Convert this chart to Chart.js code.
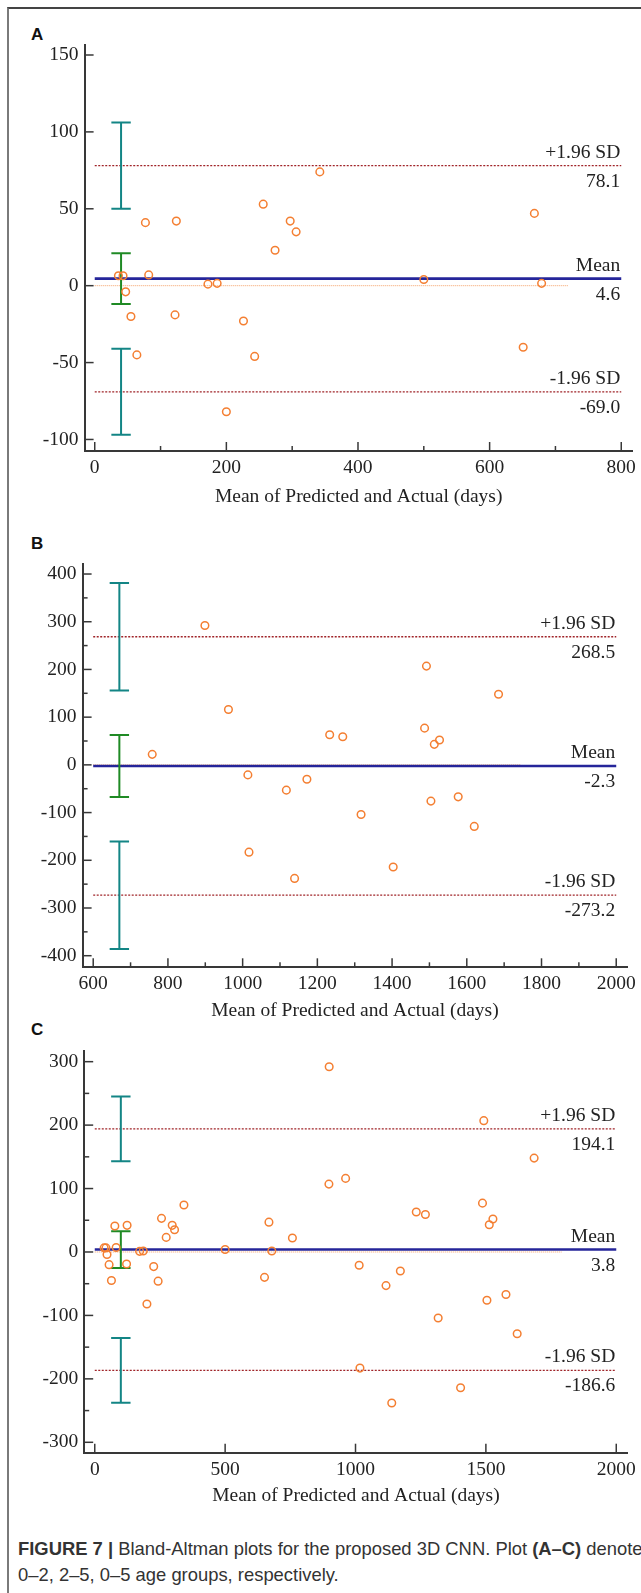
<!DOCTYPE html>
<html>
<head>
<meta charset="utf-8">
<title>Bland-Altman plots</title>
<script src="https://cdn.jsdelivr.net/npm/chart.js@4.4.1/dist/chart.umd.min.js"></script>
<style>
  html, body { margin: 0; padding: 0; background: #fff; }
  body { width: 641px; height: 1593px; position: relative; overflow: hidden; }
  .frame { position: absolute; left: 7px; top: 7px; width: 640px; height: 1590px;
           border-top: 2px solid #444; border-left: 2px solid #7a7a7a; }
  canvas { position: absolute; left: 0; }
  .tag { position: absolute; left: 31px; font: bold 17px/17px "Liberation Sans", Arial, sans-serif; color: #111; }
  .caption { position: absolute; left: 18px; top: 1536px; white-space: nowrap;
             font: 18.4px/26px "Liberation Sans", Arial, sans-serif; color: #333; }
</style>
</head>
<body>
<div class="frame"></div>
<div class="tag" style="top:25.8px">A</div>
<div class="tag" style="top:534.5px">B</div>
<div class="tag" style="top:1020.5px">C</div>
<canvas id="panelA" width="641" height="520" style="top:0px"></canvas>
<canvas id="panelB" width="641" height="505" style="top:520px"></canvas>
<canvas id="panelC" width="641" height="490" style="top:1025px"></canvas>
<div class="caption"><b>FIGURE 7 |</b> Bland-Altman plots for the proposed 3D CNN. Plot <b>(A–C)</b> denote<br>0–2, 2–5, 0–5 age groups, respectively.</div>

<script>
// ---- data: mean of predicted and actual age (days) vs. difference (days) ----
// 0–2 age group
const avgA  = [342, 256, 668, 77, 124, 297, 306, 274, 36, 43, 82, 47, 172, 186, 500, 679, 55, 122, 226, 64, 243, 651, 200];
const diffA = [74, 53, 47, 41, 42, 42, 35, 23, 6.5, 6.5, 7, -4, 1, 1.5, 4, 1.5, -20, -19, -23, -45, -46, -40, -82];
// 2–5 age group
const avgB  = [899, 1492, 1685, 962, 1233, 1268, 1487, 1527, 1513, 758, 1014, 1117, 1172, 1317, 1504, 1577, 1620, 1017, 1403, 1139];
const diffB = [292, 207, 148, 116, 63, 59, 77, 52, 43, 22, -21, -53, -30, -104, -76, -67, -129, -183, -214, -238];
// 0–5 age group: both groups above plus one more case
const avgExtraC  = [898];
const diffExtraC = [107];
const avgC  = avgA.concat(avgB, avgExtraC);
const diffC = diffA.concat(diffB, diffExtraC);

// Bland-Altman statistics (A, B, C)
const biasMean   = [4.6, -2.3, 3.8];
const loaUpper   = [78.1, 268.5, 194.1];
const loaLower   = [-69.0, -273.2, -186.6];
const ciHalfMean = [16.5, 65, 29];
const ciHalfLoA  = [28, 112.5, 51];
const ciAtX      = [40, 670, 100];

// tick labels
const xTicksA = [0, 200, 400, 600, 800];
const xMinorA = [100, 300, 500, 700];
const yTicksA = [-100, -50, 0, 50, 100, 150];
const yMinorA = [];
const xTicksB = [600, 800, 1000, 1200, 1400, 1600, 1800, 2000];
const xMinorB = [700, 900, 1100, 1300, 1500, 1700, 1900];
const yTicksB = [-400, -300, -200, -100, 0, 100, 200, 300, 400];
const yMinorB = [-350, -250, -150, -50, 50, 150, 250, 350];
const xTicksC = [0, 500, 1000, 1500, 2000];
const xMinorC = [];
const yTicksC = [-300, -200, -100, 0, 100, 200, 300];
const yMinorC = [-250, -150, -50, 50, 150, 250];

const axisTitle = 'Mean of Predicted and Actual (days)';

// ---- drawing ----
const SERIF = '"Liberation Serif", "Times New Roman", serif';
const FS = 19.5;             // serif text size in the plots
Chart.defaults.font.family = SERIF;
Chart.defaults.color = '#222';

const C_POINT = '#f47f32';
const C_MEAN  = '#25259a';
const C_LOA   = '#a02429';
const C_ZERO  = '#f6a066';
const C_CI_M  = '#1f8a24';
const C_CI_L  = '#138585';
const C_AXIS  = '#383838';

function hLine(x0, x1, y, color, width, dash) {
  return {
    type: 'line', data: [{ x: x0, y: y }, { x: x1, y: y }],
    borderColor: color, borderWidth: width, borderDash: dash,
    pointRadius: 0, tension: 0, fill: false
  };
}

function ciBar(x, lo, hi, color) {
  return {
    type: 'line', data: [{ x: x, y: lo }, { x: x, y: hi }],
    borderColor: color, borderWidth: 2, fill: false, tension: 0,
    pointStyle: 'line', pointRadius: 9.7, pointBorderWidth: 2,
    pointBorderColor: color, pointBackgroundColor: color
  };
}

function buildPanel(p) {
  const k = p.k;
  const mean = biasMean[k], up = loaUpper[k], lo = loaLower[k];
  const canvasH = p.canvasH;

  // inward tick marks on both axes
  const tickMarks = {
    id: 'tickMarks' + k,
    afterDraw(chart) {
      const ctx = chart.ctx, xs = chart.scales.x, ys = chart.scales.y;
      const a = chart.chartArea;
      ctx.save();
      ctx.strokeStyle = C_AXIS;
      ctx.lineWidth = 1.5;
      const xt = (vals, len) => vals.forEach(v => {
        const px = xs.getPixelForValue(v);
        ctx.beginPath(); ctx.moveTo(px, a.bottom); ctx.lineTo(px, a.bottom - len); ctx.stroke();
      });
      const yt = (vals, len) => vals.forEach(v => {
        const py = ys.getPixelForValue(v);
        ctx.beginPath(); ctx.moveTo(a.left, py); ctx.lineTo(a.left + len, py); ctx.stroke();
      });
      xt(p.xTicks, 9); xt(p.xMinor, 5);
      yt(p.yTicks, 9); yt(p.yMinor, 5);
      ctx.restore();
    }
  };

  // names and values of the mean and limits of agreement
  const limitLabels = {
    id: 'limitLabels' + k,
    afterDatasetsDraw(chart) {
      const ctx = chart.ctx, xs = chart.scales.x, ys = chart.scales.y;
      const xr = xs.getPixelForValue(p.x1) - 1;
      ctx.save();
      ctx.font = FS + 'px ' + SERIF;
      ctx.fillStyle = '#222';
      ctx.textAlign = 'right';
      ctx.textBaseline = 'alphabetic';
      [[up, '+1.96 SD'], [mean, 'Mean'], [lo, '-1.96 SD']].forEach(([v, name]) => {
        const py = ys.getPixelForValue(v);
        ctx.fillText(name, xr, py - 8);
        ctx.fillText(v.toFixed(1), xr, py + 21);
      });
      ctx.restore();
    }
  };

  const titleBottomPad = (p.canvasTop + canvasH) - p.titleY - FS * 0.6;

  new Chart(document.getElementById(p.id), {
    type: 'scatter',
    data: {
      datasets: [
        {
          type: 'scatter',
          data: p.avg.map((x, i) => ({ x: x, y: p.diff[i] })),
          pointRadius: 3.8, pointBorderWidth: 1.5,
          pointBorderColor: C_POINT, pointBackgroundColor: 'rgba(255,255,255,0)',
          showLine: false
        },
        ciBar(ciAtX[k], mean - ciHalfMean[k], mean + ciHalfMean[k], C_CI_M),
        ciBar(ciAtX[k], up - ciHalfLoA[k], up + ciHalfLoA[k], C_CI_L),
        ciBar(ciAtX[k], lo - ciHalfLoA[k], lo + ciHalfLoA[k], C_CI_L),
        hLine(p.x0, p.x1, mean, C_MEAN, 2.6, []),
        hLine(p.x0, p.x1, up, C_LOA, 1.3, [2, 1.5]),
        hLine(p.x0, p.x1, lo, C_LOA, 1.3, [2, 1.5]),
        hLine(p.x0, p.zeroEnd, 0, C_ZERO, 1, [1, 1])
      ]
    },
    options: {
      responsive: false,
      animation: false,
      events: [],
      layout: {
        autoPadding: false,
        padding: { left: 0, top: p.area.top - p.canvasTop, right: 641 - p.area.right, bottom: 0 }
      },
      plugins: { legend: { display: false }, tooltip: { enabled: false } },
      scales: {
        x: {
          type: 'linear', position: 'bottom',
          min: p.xRange[0], max: p.xRange[1],
          afterBuildTicks: s => { s.ticks = p.xTicks.map(v => ({ value: v })); },
          afterFit: s => { s.height = (p.canvasTop + canvasH) - p.area.bottom; },
          grid: { display: false, drawTicks: false },
          border: { display: true, color: C_AXIS, width: 2 },
          ticks: { padding: 5, autoSkip: false, maxRotation: 0, font: { size: FS, lineHeight: 1.2 },
                   color: '#222', callback: v => String(v) },
          title: { display: true, text: axisTitle, color: '#222',
                   font: { size: FS, lineHeight: 1.2 }, padding: { top: 0, bottom: titleBottomPad } }
        },
        y: {
          type: 'linear', position: 'left',
          min: p.yRange[0], max: p.yRange[1],
          afterBuildTicks: s => { s.ticks = p.yTicks.map(v => ({ value: v })); },
          afterFit: s => { s.width = p.area.left; },
          grid: { display: false, drawTicks: false },
          border: { display: true, color: C_AXIS, width: 2 },
          ticks: { padding: 6, autoSkip: false, font: { size: FS, lineHeight: 1.2 },
                   color: '#222', callback: v => String(v) }
        }
      }
    },
    plugins: [tickMarks, limitLabels]
  });
}

buildPanel({
  k: 0, id: 'panelA', canvasTop: 0, canvasH: 520, titleY: 497,
  area: { left: 84.6, top: 45, right: 635, bottom: 451 },
  xRange: [-15.4, 817.4], yRange: [-107.5, 156.5],
  avg: avgA, diff: diffA, x0: 0, x1: 800, zeroEnd: 720,
  xTicks: xTicksA, xMinor: xMinorA, yTicks: yTicksA, yMinor: yMinorA
});
buildPanel({
  k: 1, id: 'panelB', canvasTop: 520, canvasH: 505, titleY: 1011,
  area: { left: 82.6, top: 564, right: 627.5, bottom: 967.3 },
  xRange: [571.6, 2029.4], yRange: [-424.3, 421],
  avg: avgB, diff: diffB, x0: 600, x1: 2000, zeroEnd: 1745,
  xTicks: xTicksB, xMinor: xMinorB, yTicks: yTicksB, yMinor: yMinorB
});
buildPanel({
  k: 2, id: 'panelC', canvasTop: 1025, canvasH: 490, titleY: 1496,
  area: { left: 84.2, top: 1050.7, right: 629.6, bottom: 1452.7 },
  xRange: [-40.5, 2043.6], yRange: [-316.4, 317.3],
  avg: avgC, diff: diffC, x0: 0, x1: 2000, zeroEnd: 1790,
  xTicks: xTicksC, xMinor: xMinorC, yTicks: yTicksC, yMinor: yMinorC
});
</script>
</body>
</html>
